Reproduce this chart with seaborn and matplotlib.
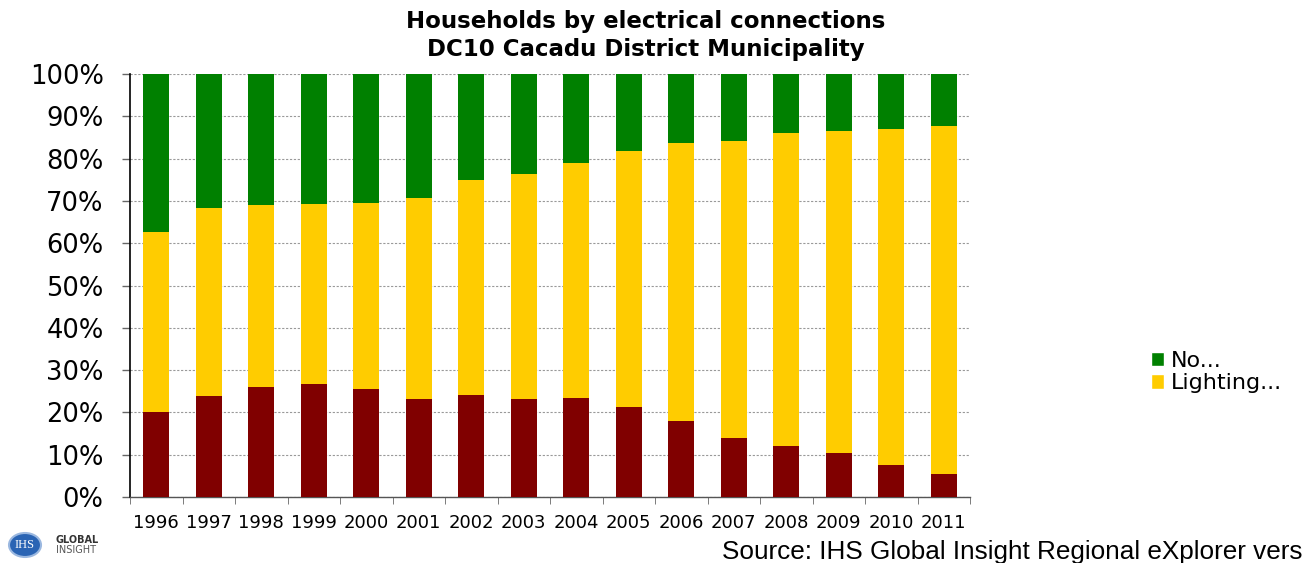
import numpy as np
import pandas as pd
import matplotlib
matplotlib.use("Agg")
import matplotlib.pyplot as plt
from matplotlib.patches import Patch, Ellipse
import seaborn as sns

years = ["1996", "1997", "1998", "1999", "2000", "2001", "2002", "2003",
         "2004", "2005", "2006", "2007", "2008", "2009", "2010", "2011"]
electricity = [20.2, 23.9, 26.1, 26.8, 25.5, 23.1, 24.2, 23.1,
               23.4, 21.3, 18.0, 14.0, 12.1, 10.3, 7.5, 5.5]
lighting = [42.5, 44.5, 43.0, 42.5, 43.9, 47.5, 50.7, 53.3,
            55.6, 60.6, 65.8, 70.2, 73.9, 76.2, 79.5, 82.1]
no_conn = [37.3, 31.6, 30.9, 30.7, 30.6, 29.4, 25.1, 23.6,
           21.0, 18.1, 16.2, 15.8, 14.0, 13.5, 13.0, 12.4]
legend_labels = ["No...", "Lighting..."]
title_lines = ["Households by electrical connections", "DC10 Cacadu District Municipality"]
source = "Source: IHS Global Insight Regional eXplorer vers"

c_red, c_yel, c_grn = "#800000", "#FFCC00", "#008000"

df = pd.DataFrame({"year": years, "elec": electricity,
                   "light": lighting, "no": no_conn})
df["c1"] = df["elec"]
df["c2"] = df["elec"] + df["light"]
df["c3"] = df["c2"] + df["no"]

sns.set_style("white")
plt.rcParams["font.family"] = ["DejaVu Sans"]
plt.rcParams["text.color"] = "black"
plt.rcParams["xtick.labelcolor"] = "black"
plt.rcParams["ytick.labelcolor"] = "black"

fig = plt.figure(figsize=(13.1, 5.63), dpi=100)
ax = fig.add_axes([130/1310, 1-497/563, 840/1310, 423/563])

for col, color in [("c3", c_grn), ("c2", c_yel), ("c1", c_red)]:
    sns.barplot(data=df, x="year", y=col, color=color, width=0.5,
                saturation=1, ax=ax, zorder=3, errorbar=None, linewidth=0)

ax.set_ylim(0, 100)
ax.set_xlim(-0.5, len(years) - 0.5)
ax.set_xlabel("")
ax.set_ylabel("")
ax.set_yticks(np.arange(0, 101, 10))
ax.set_yticklabels([f"{v}%" for v in range(0, 101, 10)], fontsize=18.5)
ax.yaxis.grid(True, color="#999999", linestyle=(0, (2, 1.5)), linewidth=0.8, zorder=0)
ax.xaxis.grid(False)
ax.tick_params(axis="y", which="major", direction="out", length=6, width=1,
               color="#666666", pad=13, left=True)
ax.tick_params(axis="x", which="major", length=0, pad=12, labelsize=13)
ax.set_xticks(np.arange(-0.5, len(years), 1.0), minor=True)
ax.tick_params(axis="x", which="minor", direction="out", length=5,
               color="#666666", bottom=True)
for s in ["top", "right"]:
    ax.spines[s].set_visible(False)
ax.spines["left"].set_color("black")
ax.spines["left"].set_linewidth(1.2)
ax.spines["bottom"].set_color("#555555")
ax.spines["bottom"].set_linewidth(1.0)

fig.text(0.493, 1-28/563, title_lines[0], ha="center", va="baseline",
         fontsize=16.5, fontweight="bold")
fig.text(0.493, 1-56/563, title_lines[1], ha="center", va="baseline",
         fontsize=16.5, fontweight="bold")

handles = [Patch(facecolor=c_grn), Patch(facecolor=c_yel)]
fig.legend(handles, legend_labels, loc="center left",
           bbox_to_anchor=(1140/1310, 1-372/563), frameon=False,
           fontsize=16, handlelength=0.6, handleheight=0.6,
           handletextpad=0.3, labelspacing=0.12, borderpad=0)

fig.text(722/1310, 1-552/563, source, ha="left", va="center",
         fontsize=18.8, fontfamily="Liberation Sans")

# logo
lax = fig.add_axes([6/1310, 1-560/563, 112/1310, 32/563])
lax.set_xlim(0, 112)
lax.set_ylim(0, 32)
lax.axis("off")
lax.add_patch(Ellipse((19, 15), 32, 24, facecolor="#2a64b4", edgecolor="#9bb8e0", lw=1.5))
lax.text(19, 15, "IHS", ha="center", va="center", color="white",
         fontsize=9, fontfamily="Liberation Serif")
lax.text(50, 20, "GLOBAL", ha="left", va="center", fontsize=7,
         fontweight="bold", color="#333333")
lax.text(50, 10, "INSIGHT", ha="left", va="center", fontsize=7, color="#555555")

fig.savefig("out.png", dpi=100)
